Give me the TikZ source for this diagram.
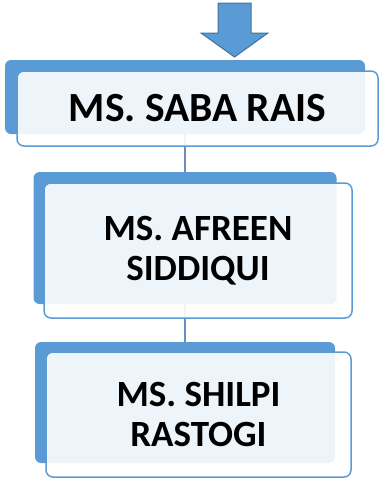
\documentclass[tikz,border=0pt]{standalone}
\usepackage{fontspec}
\setmainfont{Carlito}
\definecolor{accent}{HTML}{5B9BD5}
\definecolor{accentdark}{HTML}{41719C}
\definecolor{connector}{HTML}{6A8FBF}
\begin{document}
\begin{tikzpicture}[x=1pt,y=-1pt,
  backbox/.style={fill=accent, draw=none, rounded corners=6pt, inner sep=0pt},
  frontbox/.style={fill=white, fill opacity=0.9, text opacity=1, draw=accent, line width=1.5pt, rounded corners=7pt, inner sep=0pt, align=center, font=\bfseries},
  link/.style={draw=connector, line width=1.5pt}]
\useasboundingbox (0,0) rectangle (379,479);
\coordinate (c1) at (185,97);
\coordinate (c2) at (185,238);
\coordinate (c3) at (185,402.5);
\draw[link] (c1) -- (c2);
\draw[link] (c2) -- (c3);
% box 1
\node[backbox, minimum width=360pt, minimum height=74pt] (b1) at (c1) {};
\node[frontbox, minimum width=361pt, minimum height=75pt, font=\fontsize{41.5}{46}\selectfont\bfseries] (f1) at (197.5,108.5) {MS. SABA RAIS};
% box 2
\node[backbox, minimum width=303pt, minimum height=132pt] (b2) at (c2) {};
\node[frontbox, minimum width=308pt, minimum height=135pt, font=\fontsize{37}{40.5}\selectfont\bfseries] (f2) at (198,250.5) {MS. AFREEN\\SIDDIQUI};
% box 3
\node[backbox, minimum width=300pt, minimum height=121pt] (b3) at (c3) {};
\node[frontbox, minimum width=305pt, minimum height=125pt, font=\fontsize{37}{40.5}\selectfont\bfseries] (f3) at (198.5,414.5) {MS. SHILPI\\RASTOGI};
% down arrow
\draw[fill=accent, draw=accentdark, line width=1pt, line join=miter]
  (218,3) -- (251,3) -- (251,33) -- (268,33) -- (234.5,57) -- (201,33) -- (218,33) -- cycle;
\end{tikzpicture}
\end{document}
